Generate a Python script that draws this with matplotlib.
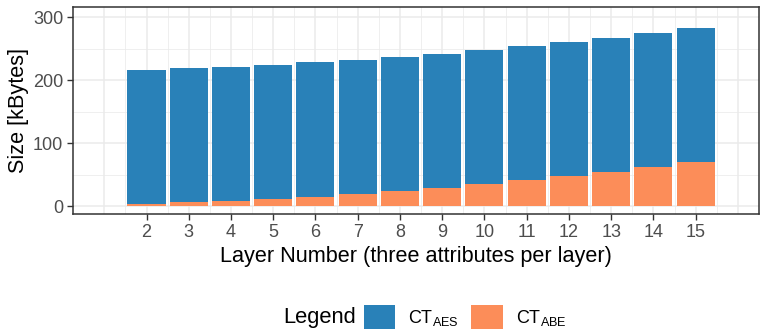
import matplotlib
matplotlib.use("Agg")
import matplotlib.pyplot as plt
from matplotlib.patches import Patch

plt.rcParams["font.family"] = ["Liberation Sans", "DejaVu Sans"]
plt.rcParams["mathtext.fontset"] = "custom"
plt.rcParams["mathtext.rm"] = "Liberation Sans"
plt.rcParams["mathtext.it"] = "Liberation Sans"

# Ciphertext sizes per layer (kBytes)
layers = [2, 3, 4, 5, 6, 7, 8, 9, 10, 11, 12, 13, 14, 15]
ct_abe = [3, 6, 8, 11, 14, 19.5, 24, 28.5, 35.5, 41.5, 48, 54, 62, 70]
ct_aes = [213, 213, 212.5, 213, 214.5, 212, 212.5, 212.5, 212, 212.5, 212, 212.5, 212.5, 212.5]

ytick_vals = [0, 100, 200, 300]

blue = "#2981B8"
orange = "#FC8D59"
grid_col = "#EBEBEB"
dark = "#333333"

fig = plt.figure(figsize=(7.6, 3.33), dpi=100)
ax = fig.add_axes([73 / 760, 1 - 214 / 333, (759 - 73) / 760, (214 - 7) / 333])

ax.bar(layers, ct_abe, width=0.9, color=orange, edgecolor="none", zorder=3)
ax.bar(layers, ct_aes, bottom=ct_abe, width=0.9, color=blue, edgecolor="none", zorder=3)

ax.set_xlim(0.26, 16.5)
ax.set_ylim(-12.7, 316)

# Grid: major at every layer, minor at halves
for x in range(1, 17):
    ax.axvline(x, color=grid_col, lw=1.1, zorder=0)
for i in range(1, 16):
    ax.axvline(i + 0.5, color=grid_col, lw=0.55, zorder=0)
for y in ytick_vals:
    ax.axhline(y, color=grid_col, lw=1.1, zorder=0)
for y in [50, 150, 250]:
    ax.axhline(y, color=grid_col, lw=0.55, zorder=0)

ax.set_xticks(layers)
ax.set_xticklabels([str(v) for v in layers])
ax.set_yticks(ytick_vals)
ax.tick_params(axis="both", direction="out", length=4, width=1.0, color=dark,
               labelsize=13, labelcolor="#4D4D4D", pad=3)

for s in ax.spines.values():
    s.set_color(dark)
    s.set_linewidth(1.1)
    s.set_zorder(5)

ax.set_xlabel("Layer Number (three attributes per layer)", fontsize=15.6, color="black", labelpad=4)
ax.set_ylabel("Size [kBytes]", fontsize=15.6, color="black", labelpad=3)

handles = [Patch(facecolor=blue, edgecolor="none", label=r"$\mathrm{CT}_{\mathrm{AES}}$"),
           Patch(facecolor=orange, edgecolor="none", label=r"$\mathrm{CT}_{\mathrm{ABE}}$")]
leg = fig.legend(handles=handles, loc="center", bbox_to_anchor=(465 / 760, 1 - 317 / 333),
                 ncol=2, frameon=False, fontsize=13, handlelength=1.75, handleheight=1.75,
                 handletextpad=0.7, columnspacing=0.7, borderpad=0)
fig.text(283 / 760, 1 - 318 / 333, "Legend", fontsize=15.8, ha="left", va="center", color="black")

fig.savefig("out.png", dpi=100)
